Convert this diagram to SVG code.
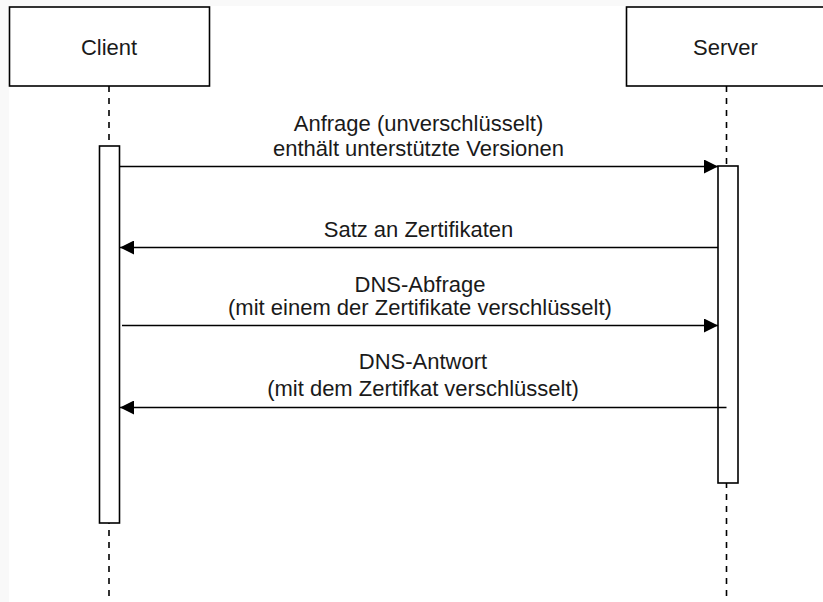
<svg xmlns="http://www.w3.org/2000/svg" width="823" height="602" viewBox="0 0 823 602">
  <defs>
    <style>
      .actor { fill: #ffffff; stroke: #000000; stroke-width: 1.6; }
      .act { fill: #ffffff; stroke: #000000; stroke-width: 1.6; }
      .life { stroke: #000000; stroke-width: 1.6; stroke-dasharray: 6 6; fill: none; }
      .msg { stroke: #000000; stroke-width: 1.6; fill: none; }
      .lbl { font-family: "Liberation Sans", Arial, Helvetica, sans-serif; font-size: 22px; fill: #1a1a1a; text-anchor: middle; }
    </style>
    <marker id="head" viewBox="0 0 14 14" refX="14" refY="7" markerWidth="14" markerHeight="14" markerUnits="userSpaceOnUse" orient="auto">
      <path d="M0,0 L14,7 L0,14 Z" fill="#000000"/>
    </marker>
  </defs>

  <!-- canvas -->
  <rect x="0" y="0" width="823" height="602" fill="#f9f9f9"/>
  <rect x="9" y="6" width="814" height="596" fill="#ffffff"/>

  <!-- Client lifeline -->
  <g id="client">
    <line class="life" x1="109" y1="86" x2="109" y2="602"/>
    <rect class="actor" x="9.5" y="7" width="200" height="79"/>
    <text class="lbl" x="109" y="55">Client</text>
    <rect class="act" x="99.5" y="146" width="20" height="377"/>
  </g>

  <!-- Server lifeline -->
  <g id="server">
    <line class="life" x1="726.5" y1="86" x2="726.5" y2="602"/>
    <rect class="actor" x="626.5" y="7" width="200" height="79"/>
    <text class="lbl" x="725.5" y="55">Server</text>
    <rect class="act" x="718" y="166" width="20" height="317"/>
  </g>

  <!-- messages -->
  <g id="messages">
    <line class="msg" x1="120" y1="166.5" x2="718" y2="166.5" marker-end="url(#head)"/>
    <text class="lbl" x="418.5" y="131">Anfrage (unverschlüsselt)</text>
    <text class="lbl" x="418.5" y="156">enthält unterstützte Versionen</text>

    <line class="msg" x1="718" y1="247.5" x2="120" y2="247.5" marker-end="url(#head)"/>
    <text class="lbl" x="418.5" y="237">Satz an Zertifikaten</text>

    <line class="msg" x1="122" y1="325.5" x2="718" y2="325.5" marker-end="url(#head)"/>
    <text class="lbl" x="420" y="292">DNS-Abfrage</text>
    <text class="lbl" x="420" y="315">(mit einem der Zertifikate verschlüsselt)</text>

    <line class="msg" x1="726.5" y1="407.5" x2="120" y2="407.5" marker-end="url(#head)"/>
    <text class="lbl" x="423" y="369">DNS-Antwort</text>
    <text class="lbl" x="423" y="396">(mit dem Zertifkat verschlüsselt)</text>
  </g>
</svg>
